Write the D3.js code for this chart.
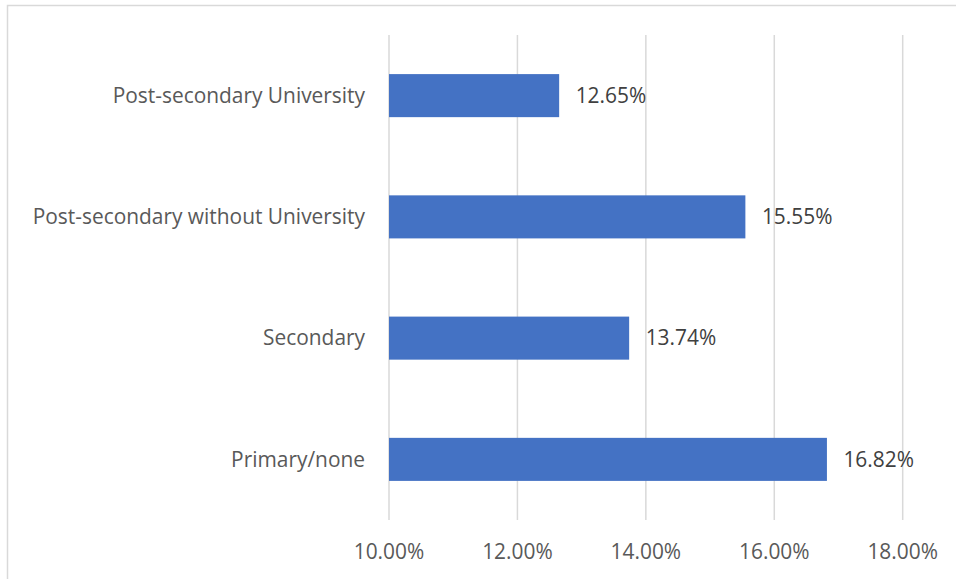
<!DOCTYPE html>
<html><head><meta charset="utf-8">
<script src="https://cdn.jsdelivr.net/npm/d3@7"></script>
<style>html,body{margin:0;padding:0;background:#fff;}svg{display:block;}</style>
</head><body>
<script>
const categories = ["Post-secondary University","Post-secondary without University","Secondary","Primary/none"];
const values = [12.65, 15.55, 13.74, 16.82];
const tickValues = [10, 12, 14, 16, 18];

const W = 956, H = 579;
const svg = d3.select("body").append("svg").attr("width", W).attr("height", H);
svg.append("rect").attr("x", 7.5).attr("y", 5.5).attr("width", 960).attr("height", 600)
  .attr("fill", "#fff").attr("stroke", "#d9d9d9").attr("stroke-width", 1.5);

const x = d3.scaleLinear().domain([10, 18]).range([389, 902.7]);
const y = d3.scaleBand().domain(categories).range([35, 520]).paddingInner(0.645).paddingOuter(0.3225);

const font = "'Open Sans', sans-serif";
const fs = 20.9;

svg.append("g").selectAll("line").data(tickValues).join("line")
  .attr("x1", d => x(d)).attr("x2", d => x(d)).attr("y1", 35).attr("y2", 520)
  .attr("stroke", "#d9d9d9").attr("stroke-width", 1.5);

svg.append("g").selectAll("text").data(tickValues).join("text")
  .attr("x", d => x(d)).attr("y", 552).attr("dy", "0.35em").attr("text-anchor", "middle")
  .attr("font-family", font).attr("font-size", fs).attr("fill", "#595959")
  .text(d => d.toFixed(2) + "%");

svg.append("g").selectAll("rect").data(values).join("rect")
  .attr("x", x(10)).attr("y", (d, i) => y(categories[i]))
  .attr("width", d => x(d) - x(10)).attr("height", y.bandwidth())
  .attr("fill", "#4472C4");

svg.append("g").selectAll("text").data(values).join("text")
  .attr("x", d => x(d) + 16.5).attr("y", (d, i) => y(categories[i]) + y.bandwidth() / 2)
  .attr("dy", "0.35em").attr("font-family", font).attr("font-size", fs).attr("fill", "#404040")
  .text(d => d.toFixed(2) + "%");

svg.append("g").selectAll("text").data(categories).join("text")
  .attr("x", 365).attr("y", d => y(d) + y.bandwidth() / 2)
  .attr("dy", "0.35em").attr("text-anchor", "end")
  .attr("font-family", font).attr("font-size", fs).attr("fill", "#595959")
  .text(d => d);
</script>
</body></html>
